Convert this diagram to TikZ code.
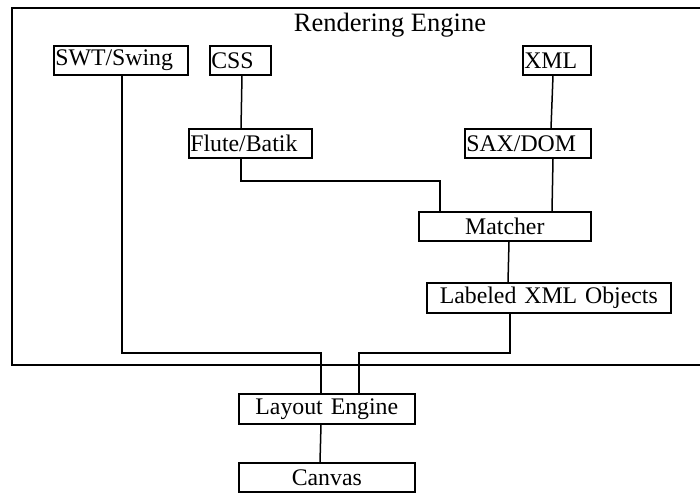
\documentclass[tikz,border=0pt]{standalone}
\usepackage{fontspec}
\setmainfont{Liberation Serif}
\tikzset{
  box/.style = {draw, line width=1.6pt, anchor=north west, minimum height=29pt,
                inner xsep=1.5pt, inner ysep=0pt, font=\fontsize{23.8}{25}\selectfont},
  wire/.style = {line width=1.5pt}
}
\begin{document}
\begin{tikzpicture}[x=1pt, y=-1pt]
  \useasboundingbox (0,0) rectangle (700,492);
  \node[draw, line width=2.2pt, anchor=north west, minimum width=720pt, minimum height=357pt] (engine) at (11,7) {};
  \node[font=\fontsize{26.5}{28}\selectfont] (title) at (390,25) {Rendering Engine};

  \node[box, text width=131pt, align=left] (swing) at (53,45) {SWT/Swing};
  \node[box, text width=58pt, align=left] (css) at (209,45) {CSS};
  \node[box, text width=65pt, align=left] (xml) at (522,45) {XML};
  \node[box, text width=120pt, align=left] (flute) at (188,128) {Flute/Batik};
  \node[box, text width=123pt, align=left] (sax) at (464,128) {SAX/DOM};
  \node[box, text width=169pt, align=center] (matcher) at (418,211) {Matcher};
  \node[box, text width=241pt, align=center, minimum height=30pt] (labeled) at (426,282) {Labeled XML Objects};
  \node[box, text width=173pt, align=center, minimum height=30pt] (layout) at (238,393) {Layout Engine};
  \node[box, text width=173pt, align=center] (canvas) at (238,462) {Canvas};

  \draw[wire] ([xshift=33pt]css.south west) -- ([xshift=53pt]flute.north west);
  \draw[wire] ([xshift=31pt]xml.south west) -- ([xshift=87pt]sax.north west);
  \draw[wire] ([xshift=53pt]flute.south west) |- ([xshift=22pt,yshift=30pt]matcher.north west)
              -- ([xshift=22pt]matcher.north west);
  \draw[wire] ([xshift=89pt]sax.south west) -- ([xshift=134pt]matcher.north west);
  \draw[wire] ([xshift=91pt]matcher.south west) -- ([xshift=82pt]labeled.north west);
  \draw[wire] ([xshift=69pt]swing.south west) |- ([xshift=83pt,yshift=40pt]layout.north west)
              -- ([xshift=83pt]layout.north west);
  \draw[wire] ([xshift=84pt]labeled.south west) |- ([xshift=121pt,yshift=40pt]layout.north west)
              -- ([xshift=121pt]layout.north west);
  \draw[wire] ([xshift=83pt]layout.south west) -- ([xshift=82pt]canvas.north west);
\end{tikzpicture}
\end{document}
